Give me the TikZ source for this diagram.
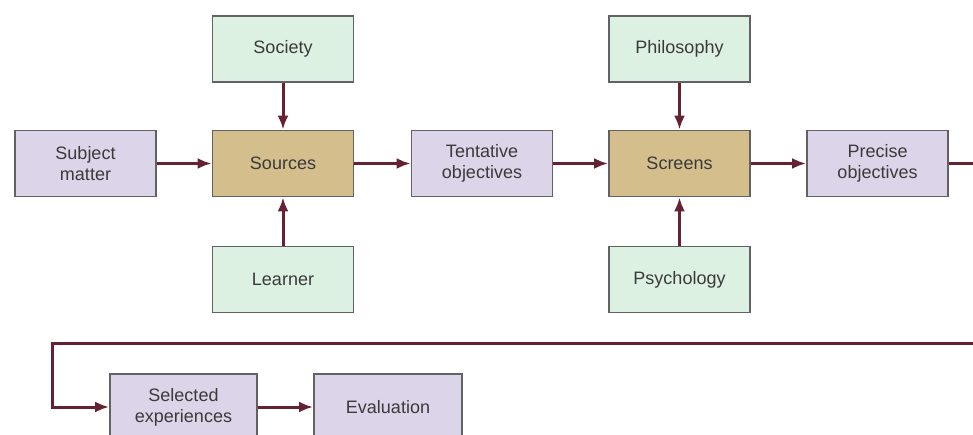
\documentclass[tikz,border=0pt]{standalone}
\usepackage{fontspec}
\setmainfont{Liberation Sans}
\usetikzlibrary{arrows.meta}
\definecolor{lav}{HTML}{DCD4E8}
\definecolor{mint}{HTML}{DDF1E3}
\definecolor{tan}{HTML}{D3BE8C}
\definecolor{edge}{HTML}{626262}
\definecolor{wire}{HTML}{642232}
\definecolor{txt}{HTML}{3A3A3A}
\begin{document}
\begin{tikzpicture}[x=1pt,y=-1pt,
  box/.style={draw=edge, line width=1.8pt, minimum width=141pt, minimum height=66pt, inner sep=0pt,
    align=center, text=txt, font=\fontsize{18}{21}\selectfont},
  purplebox/.style={box, fill=lav},
  greenbox/.style={box, fill=mint},
  tanbox/.style={box, fill=tan},
  conn/.style={draw=wire, line width=3pt, -{Latex[length=14pt,width=11pt]}}]
\useasboundingbox (0,0) rectangle (973,435);
\clip (0,0) rectangle (973,435);
\fill[white] (0,0) rectangle (973,435);

\node[greenbox] (society) at (283,49) {Society};
\node[purplebox] (subject) at (85.5,163.5) {Subject\\matter};
\node[tanbox] (sources) at (283,163.5) {Sources};
\node[purplebox] (tentative) at (482,163.5) {Tentative\\objectives};
\node[tanbox] (screens) at (679.5,163.5) {Screens};
\node[greenbox] (philosophy) at (679.5,49) {Philosophy};
\node[purplebox] (precise) at (877.5,163.5) {Precise\\objectives};
\node[greenbox] (learner) at (283,279.5) {Learner};
\node[greenbox] (psychology) at (679.5,279.5) {Psychology};
\node[purplebox, minimum width=147pt] (selected) at (183.5,407) {Selected\\experiences};
\node[purplebox, minimum width=148pt] (evaluation) at (388,407) {Evaluation};

\coordinate (r1) at (990,163.5);
\coordinate (r2) at (990,343);
\coordinate (l1) at (52,343);
\coordinate (l2) at (52,407);

\draw[conn] (society) -- (sources);
\draw[conn] (learner) -- (sources);
\draw[conn] (subject) -- (sources);
\draw[conn] (sources) -- (tentative);
\draw[conn] (tentative) -- (screens);
\draw[conn] (philosophy) -- (screens);
\draw[conn] (psychology) -- (screens);
\draw[conn] (screens) -- (precise);
\draw[conn] (precise.east) -- (r1) -- (r2) -- (l1) -- (l2) -- (selected.west);
\draw[conn] (selected) -- (evaluation);
\end{tikzpicture}
\end{document}
